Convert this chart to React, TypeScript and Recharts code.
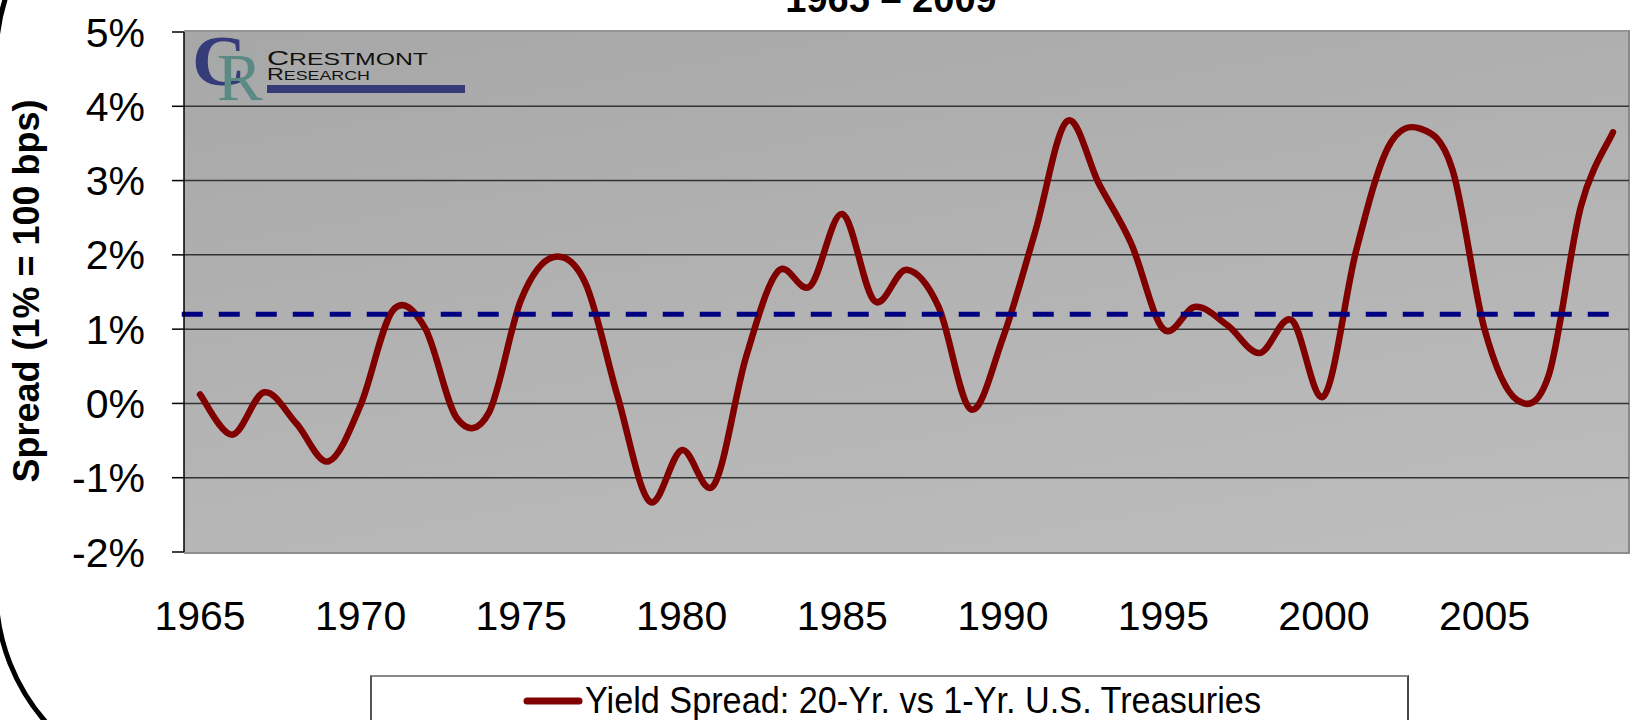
import React from 'react';
import { LineChart, Line, XAxis, YAxis, ReferenceLine, Legend } from 'recharts';

const YEARS = [
  1965, 1966, 1967, 1968, 1969, 1970, 1971, 1972, 1973, 1974,
  1975, 1976, 1977, 1978, 1979, 1980, 1981, 1982, 1983, 1984,
  1985, 1986, 1987, 1988, 1989, 1990, 1991, 1992, 1993, 1994,
  1995, 1996, 1997, 1998, 1999, 2000, 2001, 2002, 2003, 2004,
  2005, 2006, 2007, 2008, 2009,
];
const SPREAD = [
  0.12, -0.42, 0.15, -0.27, -0.78, -0.02, 1.25, 1.02, -0.2, -0.12,
  1.4, 1.97, 1.62, 0.1, -1.32, -0.63, -1.1, 0.62, 1.78, 1.58,
  2.55, 1.38, 1.8, 1.3, -0.08, 0.88, 2.3, 3.8, 2.95, 2.15,
  1.0, 1.3, 1.05, 0.68, 1.12, 0.1, 2.05, 3.45, 3.7, 3.15,
  1.0, 0.05, 0.38, 2.65, 3.65,
];
const AVERAGE = 1.2;
const AVERAGE_SPAN = [1964.43, 2009.34];
const X_TICKS = [1965, 1970, 1975, 1980, 1985, 1990, 1995, 2000, 2005];
const Y_TICKS = [-2, -1, 0, 1, 2, 3, 4, 5];
const GRID_VALUES = [-1, 0, 1, 2, 3, 4];
const TITLE = '1965 \u2013 2009';
const Y_LABEL = 'Spread (1% = 100 bps)';
const SERIES_NAME = 'Yield Spread: 20-Yr. vs 1-Yr. U.S. Treasuries';

const data = YEARS.map((year, i) => ({ year, spread: SPREAD[i] }));

const FONT = '"Liberation Sans", Arial, sans-serif';
const SERIF = '"Liberation Serif", "DejaVu Serif", serif';

// Excel-like smoothing (uniform Catmull-Rom through every point)
const smoothCurve = (context: any) => {
  let xs: number[] = [];
  let ys: number[] = [];
  return {
    areaStart() {},
    areaEnd() {},
    lineStart() {
      xs = [];
      ys = [];
    },
    point(x: number, y: number) {
      xs.push(+x);
      ys.push(+y);
    },
    lineEnd() {
      const n = xs.length;
      if (!n) return;
      context.moveTo(xs[0], ys[0]);
      for (let i = 0; i < n - 1; i++) {
        const i0 = Math.max(i - 1, 0);
        const i3 = Math.min(i + 2, n - 1);
        const x0 = xs[i0], y0 = ys[i0];
        const x1 = xs[i], y1 = ys[i];
        const x2 = xs[i + 1], y2 = ys[i + 1];
        const x3 = xs[i3], y3 = ys[i3];
        context.bezierCurveTo(
          x1 + (x2 - x0) / 6,
          y1 + (y2 - y0) / 6,
          x2 - (x3 - x1) / 6,
          y2 - (y3 - y1) / 6,
          x2,
          y2,
        );
      }
    },
  };
};

const LegendBox = () => (
  <div
    style={{
      width: 1039,
      height: 60,
      boxSizing: 'border-box',
      borderTop: '2px solid #8a8a8a',
      borderLeft: '2px solid #555',
      borderRight: '2px solid #444',
      background: '#fff',
    }}
  >
    <svg width={1035} height={58} style={{ display: 'block' }}>
      <line x1={155} y1={24} x2={207} y2={24} stroke="#800000" strokeWidth={7} strokeLinecap="round" />
      <text
        x={213}
        y={36}
        fontFamily={FONT}
        fontSize={36}
        fill="#000"
        textLength={676}
        lengthAdjust="spacingAndGlyphs"
      >
        {SERIES_NAME}
      </text>
    </svg>
  </div>
);

export default function App() {
  return (
    <div
      style={{
        position: 'fixed',
        left: 0,
        top: 0,
        width: 1630,
        height: 720,
        overflow: 'hidden',
        background: '#fff',
        fontFamily: FONT,
      }}
    >
      {/* plot area background */}
      <div
        style={{
          position: 'absolute',
          left: 184,
          top: 30,
          width: 1446,
          height: 524,
          boxSizing: 'border-box',
          borderTop: '2px solid #959595',
          borderRight: '2px solid #8a8a8a',
          borderBottom: '2px solid #8f8f8f',
          background: 'linear-gradient(170deg, #a7a7a7 0%, #b3b3b3 50%, #bdbdbd 100%)',
        }}
      />
      <div style={{ position: 'absolute', left: 0, top: 0 }}>
        <LineChart
          width={1630}
          height={720}
          data={data}
          margin={{ top: 32, right: 1, left: 0, bottom: 0 }}
        >
          <XAxis
            dataKey="year"
            type="number"
            domain={[1964.5, 2009.5]}
            ticks={X_TICKS}
            interval={0}
            height={168}
            axisLine={false}
            tickLine={false}
            tickSize={0}
            tickMargin={49}
            tick={{ fill: '#000', fontSize: 41, fontFamily: FONT }}
          />
          <YAxis
            type="number"
            domain={[-2, 5]}
            ticks={Y_TICKS}
            interval={0}
            width={184}
            tickFormatter={(v: number) => `${v}%`}
            axisLine={{ stroke: '#000', strokeWidth: 1.5 }}
            tickLine={{ stroke: '#000', strokeWidth: 1.5 }}
            tickSize={12}
            tickMargin={27}
            tick={{ fill: '#000', fontSize: 41, fontFamily: FONT }}
          />
          {GRID_VALUES.map((v) => (
            <ReferenceLine key={v} y={v} stroke="#333" strokeWidth={1.5} />
          ))}
          <Line
            type={smoothCurve as any}
            dataKey="spread"
            name={SERIES_NAME}
            stroke="#800000"
            strokeWidth={6.5}
            strokeLinecap="round"
            strokeLinejoin="round"
            dot={false}
            activeDot={false}
            isAnimationActive={false}
          />
          <ReferenceLine
            segment={[
              { x: AVERAGE_SPAN[0], y: AVERAGE },
              { x: AVERAGE_SPAN[1], y: AVERAGE },
            ]}
            ifOverflow="visible"
            stroke="#000080"
            strokeWidth={5}
            strokeDasharray="21 16"
          />
          <Legend
            layout="horizontal"
            verticalAlign="middle"
            align="center"
            wrapperStyle={{ left: 370, top: 675, width: 1039, height: 60 }}
            content={() => <LegendBox />}
          />
        </LineChart>
      </div>
      {/* decorations: title, axis title, logo, frame */}
      <svg
        width={1630}
        height={720}
        style={{ position: 'absolute', left: 0, top: 0, pointerEvents: 'none' }}
      >
        <text x={891} y={12} textAnchor="middle" fontFamily={FONT} fontWeight="bold" fontSize={38} fill="#000">
          {TITLE}
        </text>
        <text
          transform="translate(38.5,291) rotate(-90)"
          textAnchor="middle"
          fontFamily={FONT}
          fontWeight="bold"
          fontSize={36}
          fill="#000"
        >
          {Y_LABEL}
        </text>
        <path
          d="M 196 -141 A 200 200 0 0 0 -4 59 L -4 590 A 200 200 0 0 0 196 790"
          fill="none"
          stroke="#000"
          strokeWidth={5}
        />
        {/* logo */}
        <g>
          <rect x={217} y={53} width={46} height={47} fill="none" stroke="#8fb3ae" strokeWidth={1} opacity={0.6} />
          <line x1={217} y1={68} x2={263} y2={68} stroke="#8fb3ae" strokeWidth={1} opacity={0.5} />
          <line x1={217} y1={84} x2={263} y2={84} stroke="#8fb3ae" strokeWidth={1} opacity={0.5} />
          <line x1={232} y1={53} x2={232} y2={100} stroke="#8fb3ae" strokeWidth={1} opacity={0.5} />
          <line x1={248} y1={53} x2={248} y2={100} stroke="#8fb3ae" strokeWidth={1} opacity={0.5} />
          <text x={192} y={85} fontFamily={SERIF} fontWeight="bold" fontSize={72} fill="#363c7a" textLength={54} lengthAdjust="spacingAndGlyphs">
            C
          </text>
          <text x={217} y={100} fontFamily={SERIF} fontSize={68} fill="#5b8a85">
            R
          </text>
          <text x={267} y={65} fontFamily={FONT} fill="#111" textLength={161} lengthAdjust="spacingAndGlyphs">
            <tspan fontSize={21}>C</tspan>
            <tspan fontSize={17}>RESTMONT</tspan>
          </text>
          <text x={267} y={80} fontFamily={FONT} fill="#111" textLength={103} lengthAdjust="spacingAndGlyphs">
            <tspan fontSize={17}>R</tspan>
            <tspan fontSize={13}>ESEARCH</tspan>
          </text>
          <rect x={267} y={85} width={198} height={8} fill="#363b78" />
        </g>
      </svg>
    </div>
  );
}
